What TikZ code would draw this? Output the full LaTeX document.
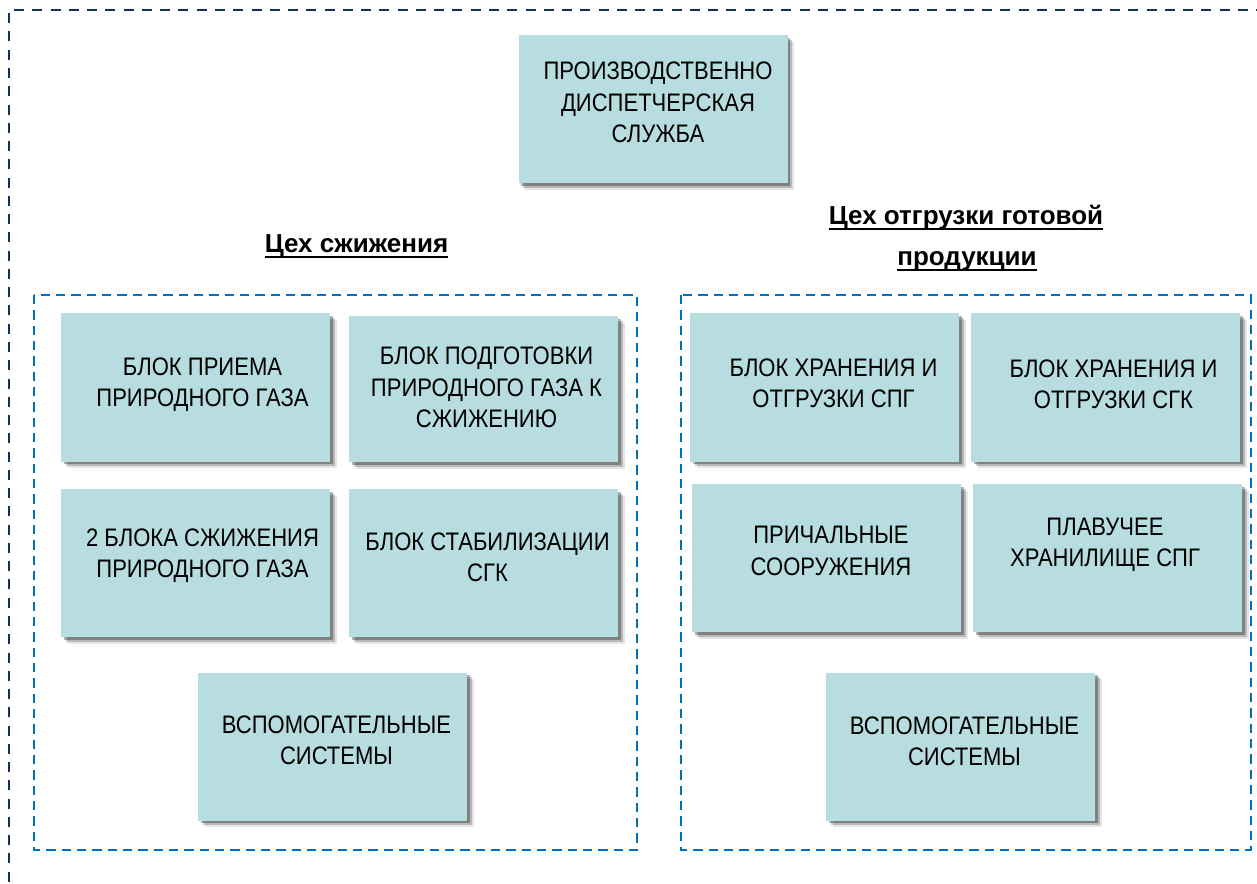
\documentclass[tikz,border=0pt]{standalone}
\usepackage{fontspec}
\setmainfont{Liberation Sans}[FakeStretch=0.87]
\newfontfamily\headfont{Liberation Sans}
\usetikzlibrary{shadows}
\definecolor{boxfill}{HTML}{B8DDE1}
\definecolor{navy}{HTML}{16305E}
\definecolor{midblue}{HTML}{0070C0}
\newcommand{\hul}[1]{\leavevmode\setbox0=\hbox{#1}\rlap{\copy0}\rule[-4pt]{\wd0}{1.8pt}}
\tikzset{
  blockbox/.style={fill=boxfill, draw=none, minimum width=201.75pt, minimum height=111pt,
    inner sep=0pt,
    drop shadow={shadow xshift=5pt, shadow yshift=-5pt, opacity=0.1, fill=black},
    drop shadow={shadow xshift=3.5pt, shadow yshift=-3.5pt, opacity=0.2, fill=black},
    drop shadow={shadow xshift=2pt, shadow yshift=-2pt, opacity=0.3, fill=black}},
  boxtext/.style={align=center, inner sep=0pt, font=\fontsize{19}{23.5}\selectfont},
  heading/.style={anchor=base, inner sep=0pt, font=\headfont\fontsize{19.5}{29}\selectfont\bfseries},
  outerframe/.style={draw=navy, line width=2pt, dash pattern=on 7.5pt off 6.2pt},
  innerframe/.style={draw=midblue, line width=1.8pt, dash pattern=on 7pt off 4.5pt},
}
\begin{document}
\begin{tikzpicture}[x=0.75pt, y=-0.75pt]
\useasboundingbox (0,0) rectangle (1257,884);
\clip (0,0) rectangle (1257,884);
\coordinate (oa) at (9,900);
\coordinate (ob) at (9,10);
\coordinate (oc) at (1275,10);
\draw[outerframe] (oa) -- (ob) -- (oc);
\coordinate (la) at (34,295);
\coordinate (lb) at (637,850);
\coordinate (ra) at (681,295);
\coordinate (rb) at (1251,850);
\draw[innerframe] (la) rectangle (lb);
\draw[innerframe] (ra) rectangle (rb);

\node[blockbox] (top) at (653,109) {};
\node[boxtext] (topt) at ([shift={(5,-6.5)}]top.center) {ПРОИЗВОДСТВЕННО\\ДИСПЕТЧЕРСКАЯ\\СЛУЖБА};

\node[heading] (hl) at (356.5,253) {\hul{Цех сжижения}};
\node[heading] (hr1) at (966,225) {\hul{Цех отгрузки готовой}};
\node[heading] (hr2) at (967,266) {\hul{продукции}};

\node[blockbox] (l1) at (195.5,387.5) {};
\node[boxtext] (l1t) at ([shift={(7,-2.5)}]l1.center) {БЛОК ПРИЕМА\\ПРИРОДНОГО ГАЗА};
\node[blockbox, minimum height=109.5pt] (l2) at (483.5,389) {};
\node[boxtext] (l2t) at ([shift={(3,-1.5)}]l2.center) {БЛОК ПОДГОТОВКИ\\ПРИРОДНОГО ГАЗА К\\СЖИЖЕНИЮ};
\node[blockbox] (l3) at (195.5,563) {};
\node[boxtext] (l3t) at ([shift={(7,-7)}]l3.center) {2 БЛОКА СЖИЖЕНИЯ\\ПРИРОДНОГО ГАЗА};
\node[blockbox] (l4) at (483.5,563) {};
\node[boxtext] (l4t) at ([shift={(4,-5.5)}]l4.center) {БЛОК СТАБИЛИЗАЦИИ\\СГК};
\node[blockbox] (l5) at (332.5,746.5) {};
\node[boxtext] (l5t) at ([shift={(4,-6)}]l5.center) {ВСПОМОГАТЕЛЬНЫЕ\\СИСТЕМЫ};

\node[blockbox] (r1) at (824.5,387.5) {};
\node[boxtext] (r1t) at ([shift={(9,-4.5)}]r1.center) {БЛОК ХРАНЕНИЯ И\\ОТГРУЗКИ СПГ};
\node[blockbox] (r2) at (1105.5,387.5) {};
\node[boxtext] (r2t) at ([shift={(8,-3.5)}]r2.center) {БЛОК ХРАНЕНИЯ И\\ОТГРУЗКИ СГК};
\node[blockbox] (r3) at (826.5,558) {};
\node[boxtext] (r3t) at ([shift={(4.5,-7)}]r3.center) {ПРИЧАЛЬНЫЕ\\СООРУЖЕНИЯ};
\node[blockbox] (r4) at (1107.5,558) {};
\node[boxtext] (r4t) at ([shift={(-2.5,-13.5)}]r4.center) {ПЛАВУЧЕЕ\\ХРАНИЛИЩЕ СПГ};
\node[blockbox] (r5) at (960.5,746.5) {};
\node[boxtext] (r5t) at ([shift={(4,-5)}]r5.center) {ВСПОМОГАТЕЛЬНЫЕ\\СИСТЕМЫ};
\end{tikzpicture}
\end{document}
